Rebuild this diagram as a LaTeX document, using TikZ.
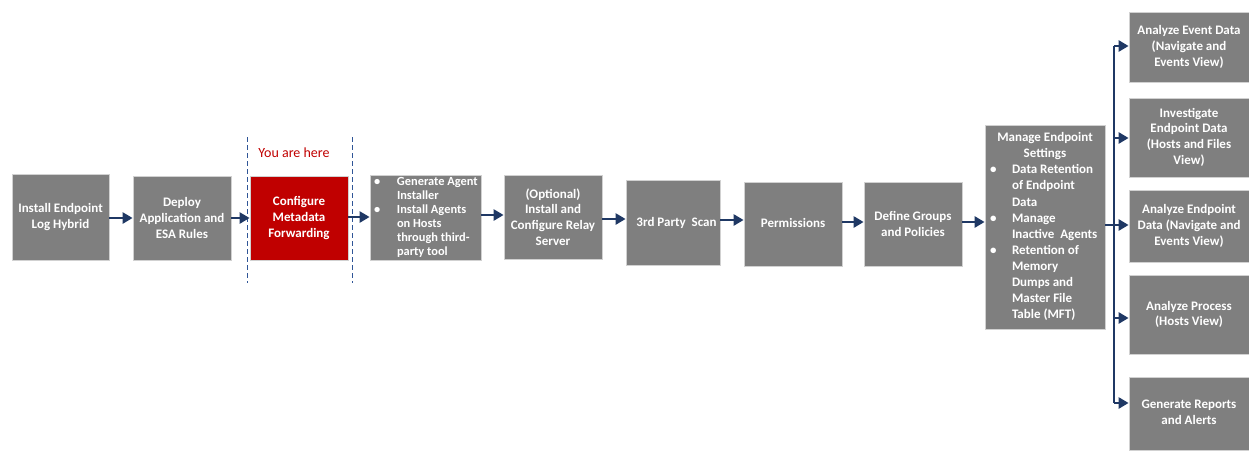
\documentclass[tikz,border=0pt]{standalone}
\usepackage{fontspec}
\setmainfont{Carlito}
\usetikzlibrary{arrows.meta}
\definecolor{boxgray}{HTML}{7F7F7F}
\definecolor{boxred}{HTML}{C00000}
\definecolor{navy}{HTML}{1F3864}
\definecolor{dashblue}{HTML}{2F5597}
\begin{document}
\begin{tikzpicture}[x=1pt,y=-1pt,
  box/.style={fill=boxgray, draw=black!18, line width=0.8pt, text=white,
    font=\fontsize{13}{15.7}\selectfont\bfseries, align=center, inner sep=0pt},
  redbox/.style={box, fill=boxred},
  arr/.style={draw=navy, line width=2.6pt, -{Triangle[length=10pt,width=11pt]}},
  busline/.style={draw=navy, line width=2.2pt},
  marker/.style={draw=dashblue, line width=1pt, dash pattern=on 5pt off 3pt},
  herelabel/.style={text=boxred, font=\fontsize{14}{16}\selectfont, inner sep=0pt}
]
\useasboundingbox (0,0) rectangle (1249,450);

% main row
\node[box, minimum width=97pt, minimum height=86pt] (b1) at (60.5,217) {Install Endpoint\\Log Hybrid};
\node[box, minimum width=98pt, minimum height=84pt] (b2) at (182,218) {Deploy\\Application and\\ESA Rules};
\node[redbox, minimum width=98pt, minimum height=84pt] (b3) at (299,218) {Configure\\Metadata\\Forwarding};
\node[box, minimum width=111pt, minimum height=85pt, text width=107pt, align=left,
  font=\fontsize{12.4}{14.1}\selectfont\bfseries] (b4) at (425.5,217.5)
  {\spaceskip=0pt\xspaceskip=0pt
   \begin{tabular}{@{\hspace{2pt}}p{23pt}@{}l@{}}
   \textbullet & Generate Agent\\
               & Installer\\
   \textbullet & Install Agents\\
               & on Hosts\\
               & through third-\\
               & party tool
   \end{tabular}};
\node[box, minimum width=98pt, minimum height=84pt] (b5) at (553,217) {(Optional)\\Install and\\Configure Relay\\Server};
\node[box, minimum width=94pt, minimum height=85pt] (b6) at (673,222.5) {\raisebox{-3.5pt}{\hspace*{7pt}3rd Party\ \ Scan}};
\node[box, minimum width=98pt, minimum height=84pt] (b7) at (793,224) {\raisebox{2pt}{Permissions}};
\node[box, minimum width=98pt, minimum height=84pt] (b8) at (913,224) {Define Groups\\and Policies};
\node[box, minimum width=120pt, minimum height=204pt, text width=116pt, align=left,
  font=\fontsize{13}{16.1}\selectfont\bfseries] (b9) at (1045,227)
  {\spaceskip=0pt\xspaceskip=0pt
   \begin{tabular}{@{\hspace{3pt}}p{22pt}@{}l@{}}
   \multicolumn{2}{@{}l@{}}{\makebox[116pt][c]{Manage Endpoint}}\\
   \multicolumn{2}{@{}l@{}}{\makebox[116pt][c]{Settings}}\\
   \textbullet & Data Retention\\
               & of Endpoint\\
               & Data\\
   \textbullet & Manage\\
               & Inactive\ \ Agents\\
   \textbullet & Retention of\\
               & Memory\\
               & Dumps and\\
               & Master File\\
               & Table (MFT)
   \end{tabular}};

% right column
\node[box, minimum width=120pt, minimum height=70pt] (r1) at (1189,47) {Analyze Event Data\\(Navigate and\\Events View)};
\node[box, minimum width=120pt, minimum height=79pt] (r2) at (1189,137.5) {\raisebox{-2pt}{\begin{tabular}{@{}c@{}}Investigate\\Endpoint Data\\(Hosts and Files\\View)\end{tabular}}};
\node[box, minimum width=120pt, minimum height=72pt] (r3) at (1189,226) {Analyze Endpoint\\Data (Navigate and\\Events View)};
\node[box, minimum width=120pt, minimum height=79pt] (r4) at (1189,314.5) {Analyze Process\\(Hosts View)};
\node[box, minimum width=120pt, minimum height=73pt] (r5) at (1189,413.5) {\raisebox{-2.5pt}{\begin{tabular}{@{}c@{}}Generate Reports\\and Alerts\end{tabular}}};

% "you are here" marker
\node[herelabel] (here) at (294,153) {You are here};
\coordinate (d1t) at (247,137);
\coordinate (d1b) at (247,283);
\coordinate (d2t) at (352,137);
\coordinate (d2b) at (352,283);
\draw[marker] (d1t) -- (d1b);
\draw[marker] (d2t) -- (d2b);

% main row arrows
\draw[arr] (b1.east |- 0,218) -- (b2.west |- 0,218);
\draw[arr] (b2.east |- 0,218) -- (b3.west |- 0,218);
\draw[arr] (b3.east |- 0,217) -- (b4.west |- 0,217);
\draw[arr] (b4.east |- 0,215) -- (b5.west |- 0,215);
\draw[arr] (b5.east |- 0,219) -- (b6.west |- 0,219);
\draw[arr] (b6.east |- 0,220) -- (b7.west |- 0,220);
\draw[arr] (b7.east |- 0,222) -- (b8.west |- 0,222);
\draw[arr] (b8.east |- 0,222) -- (b9.west |- 0,222);

% bus to right column
\coordinate (btop) at (1114,46);
\coordinate (bbot) at (1114,403);
\coordinate (j2) at (1114,138);
\coordinate (j3) at (1114,225);
\coordinate (j4) at (1114,318);
\draw[busline] (btop) -- (bbot);
\draw[arr] (btop) -- (r1.west |- btop);
\draw[arr] (j2) -- (r2.west |- j2);
\draw[arr] (b9.east |- j3) -- (r3.west |- j3);
\draw[arr] (j4) -- (r4.west |- j4);
\draw[arr] (bbot) -- (r5.west |- bbot);
\end{tikzpicture}
\end{document}
